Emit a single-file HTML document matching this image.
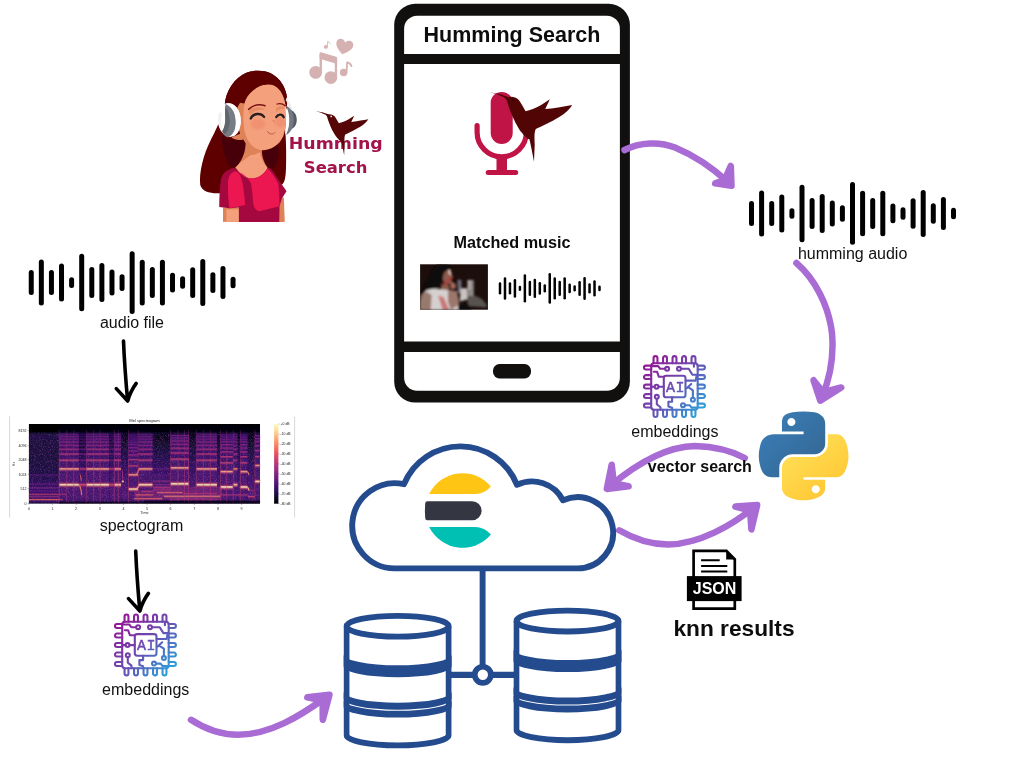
<!DOCTYPE html>
<html lang="en">
<head>
<meta charset="utf-8">
<title>Humming Search</title>
<style>
html,body{margin:0;padding:0;background:#fff;}
body{width:1024px;height:768px;overflow:hidden;}
svg{display:block;will-change:transform;}
text{font-family:"Liberation Sans",sans-serif;}
.lbl{font-size:16px;fill:#111;}
.b{font-weight:bold;}
</style>
</head>
<body>
<svg width="1024" height="768" viewBox="0 0 1024 768">
<!-- defs -->
<defs>
<filter id="blur8" x="-30%" y="-30%" width="160%" height="160%"><feGaussianBlur stdDeviation="8"/></filter>
</defs>
<!-- spectro -->
<g id="spectro">
<path d="M9.6 416.3 V517.8 M294.6 416.3 V517.8" stroke="#c9c9c9" stroke-width="0.7" fill="none"/><path d="M28.9 503.6 v1.3" stroke="#333" stroke-width="0.35"/><path d="M52.5 503.6 v1.3" stroke="#333" stroke-width="0.35"/><path d="M76.1 503.6 v1.3" stroke="#333" stroke-width="0.35"/><path d="M99.8 503.6 v1.3" stroke="#333" stroke-width="0.35"/><path d="M123.4 503.6 v1.3" stroke="#333" stroke-width="0.35"/><path d="M147.0 503.6 v1.3" stroke="#333" stroke-width="0.35"/><path d="M170.6 503.6 v1.3" stroke="#333" stroke-width="0.35"/><path d="M194.2 503.6 v1.3" stroke="#333" stroke-width="0.35"/><path d="M217.9 503.6 v1.3" stroke="#333" stroke-width="0.35"/><path d="M241.5 503.6 v1.3" stroke="#333" stroke-width="0.35"/><path d="M27.6 430.7 h1.3" stroke="#333" stroke-width="0.35"/><path d="M27.6 445.6 h1.3" stroke="#333" stroke-width="0.35"/><path d="M27.6 459.7 h1.3" stroke="#333" stroke-width="0.35"/><path d="M27.6 474.3 h1.3" stroke="#333" stroke-width="0.35"/><path d="M27.6 488.7 h1.3" stroke="#333" stroke-width="0.35"/><path d="M27.6 503.4 h1.3" stroke="#333" stroke-width="0.35"/><path d="M278.4 424.1 h1.2" stroke="#333" stroke-width="0.35"/><path d="M278.4 434.1 h1.2" stroke="#333" stroke-width="0.35"/><path d="M278.4 444.0 h1.2" stroke="#333" stroke-width="0.35"/><path d="M278.4 454.0 h1.2" stroke="#333" stroke-width="0.35"/><path d="M278.4 463.9 h1.2" stroke="#333" stroke-width="0.35"/><path d="M278.4 473.9 h1.2" stroke="#333" stroke-width="0.35"/><path d="M278.4 483.8 h1.2" stroke="#333" stroke-width="0.35"/><path d="M278.4 493.8 h1.2" stroke="#333" stroke-width="0.35"/><path d="M278.4 503.7 h1.2" stroke="#333" stroke-width="0.35"/>
<g transform="translate(24,420) scale(0.1171875)">
<defs><linearGradient id="sgA" gradientUnits="userSpaceOnUse" x1="0" y1="35" x2="0" y2="712"><stop offset="0.000" stop-color="#000004"/><stop offset="0.096" stop-color="#060413"/><stop offset="0.170" stop-color="#300f5f"/><stop offset="0.391" stop-color="#431173"/><stop offset="0.613" stop-color="#501478"/><stop offset="0.835" stop-color="#58177b"/><stop offset="0.953" stop-color="#4b1376"/><stop offset="1.000" stop-color="#240e4e"/></linearGradient><linearGradient id="sgG" gradientUnits="userSpaceOnUse" x1="0" y1="35" x2="0" y2="712"><stop offset="0.000" stop-color="#000004"/><stop offset="0.170" stop-color="#04030e"/><stop offset="0.332" stop-color="#150e37"/><stop offset="0.539" stop-color="#330f65"/><stop offset="0.775" stop-color="#501478"/><stop offset="0.894" stop-color="#641a80"/><stop offset="0.968" stop-color="#431173"/><stop offset="1.000" stop-color="#150e37"/></linearGradient><linearGradient id="sgQ" gradientUnits="userSpaceOnUse" x1="0" y1="35" x2="0" y2="712"><stop offset="0.000" stop-color="#000004"/><stop offset="0.103" stop-color="#000004"/><stop offset="0.126" stop-color="#150e37"/><stop offset="0.391" stop-color="#130d32"/><stop offset="0.613" stop-color="#190e3d"/><stop offset="0.716" stop-color="#280e54"/><stop offset="0.835" stop-color="#3b0f70"/><stop offset="0.968" stop-color="#431173"/><stop offset="1.000" stop-color="#1d0e42"/></linearGradient><filter id="spb" x="0" y="0" width="100%" height="100%"><feGaussianBlur stdDeviation="2.6"/></filter><filter id="spn" x="0" y="0" width="100%" height="100%"><feTurbulence type="fractalNoise" baseFrequency="0.11 0.14" numOctaves="2" seed="7" result="n"/><feColorMatrix in="n" type="matrix" values="0 0 0 0 0.03  0 0 0 0 0.01  0 0 0 0 0.1  2.0 0 0 0 -0.62"/></filter><filter id="spn2" x="0" y="0" width="100%" height="100%"><feTurbulence type="fractalNoise" baseFrequency="0.13 0.1" numOctaves="2" seed="23" result="n"/><feColorMatrix in="n" type="matrix" values="0 0 0 0 0.62  0 0 0 0 0.2  0 0 0 0 0.6  0 2.4 0 0 -1.2"/></filter><clipPath id="spc"><rect x="42" y="35" width="1972" height="677"/></clipPath></defs>
<rect x="42" y="35" width="1972" height="677" fill="#000004"/>
<g clip-path="url(#spc)"><g filter="url(#spb)"><rect x="42" y="35" width="256" height="677" fill="url(#sgQ)"/><rect x="830" y="35" width="60" height="677" fill="url(#sgG)"/><rect x="1099" y="35" width="150" height="677" fill="url(#sgG)"/><rect x="1409" y="35" width="60" height="677" fill="url(#sgG)"/><rect x="1649" y="35" width="25" height="677" fill="url(#sgG)"/><rect x="1824" y="35" width="20" height="677" fill="url(#sgG)"/><rect x="1909" y="35" width="60" height="677" fill="url(#sgG)"/><rect x="298" y="35" width="172" height="677" fill="url(#sgA)"/><rect x="470" y="35" width="60" height="677" fill="url(#sgG)"/><rect x="530" y="35" width="200" height="677" fill="url(#sgA)"/><rect x="730" y="35" width="38" height="677" fill="url(#sgG)"/><rect x="768" y="35" width="62" height="677" fill="url(#sgA)"/><rect x="890" y="35" width="85" height="677" fill="url(#sgA)"/><rect x="975" y="35" width="124" height="677" fill="url(#sgA)"/><rect x="1249" y="35" width="160" height="677" fill="url(#sgA)"/><rect x="1469" y="35" width="180" height="677" fill="url(#sgA)"/><rect x="1674" y="35" width="110" height="677" fill="url(#sgA)"/><rect x="1784" y="35" width="40" height="677" fill="url(#sgA)"/><rect x="1844" y="35" width="65" height="677" fill="url(#sgA)"/><rect x="1969" y="35" width="45" height="677" fill="url(#sgA)"/></g>
<rect x="42" y="105" width="1972" height="607" filter="url(#spn)" opacity="0.75"/>
<rect x="42" y="120" width="1972" height="572" filter="url(#spn2)" opacity="0.38"/>
<g filter="url(#spb)"><rect x="1969" y="124.7" width="45" height="19.6" fill="#4a1376" opacity="0.5"/><rect x="1969" y="149.2" width="45" height="19.6" fill="#56167b" opacity="0.5"/><rect x="1969" y="177.4" width="45" height="19.6" fill="#5e187d" opacity="0.5"/><rect x="1969" y="210.8" width="45" height="19.6" fill="#6c1d80" opacity="0.5"/><rect x="1969" y="251.7" width="45" height="19.6" fill="#7a2281" opacity="0.5"/><rect x="1969" y="304.4" width="45" height="19.6" fill="#842681" opacity="0.5"/><rect x="1969" y="373.1" width="45" height="30.8" fill="#ba3877" opacity="0.5"/><rect x="1969" y="505.4" width="45" height="39.2" fill="#d6456b" opacity="0.5"/><rect x="1844" y="119.4" width="65" height="19.6" fill="#340f66" opacity="0.5"/><rect x="1844" y="136.8" width="65" height="19.6" fill="#3b0f70" opacity="0.5"/><rect x="1844" y="156.1" width="65" height="19.6" fill="#451274" opacity="0.5"/><rect x="1844" y="177.7" width="65" height="19.6" fill="#4c1477" opacity="0.5"/><rect x="1844" y="202.2" width="65" height="19.6" fill="#59177c" opacity="0.5"/><rect x="1844" y="230.4" width="65" height="19.6" fill="#60197f" opacity="0.5"/><rect x="1844" y="263.8" width="65" height="19.6" fill="#6f1e80" opacity="0.5"/><rect x="1844" y="304.7" width="65" height="19.6" fill="#7d2481" opacity="0.5"/><rect x="1844" y="357.4" width="65" height="19.6" fill="#872781" opacity="0.5"/><rect x="1844" y="426.1" width="65" height="30.8" fill="#be3a75" opacity="0.5"/><rect x="1844" y="552.4" width="65" height="39.2" fill="#dc4869" opacity="0.5"/><rect x="1784" y="113.5" width="40" height="19.6" fill="#360f68" opacity="0.5"/><rect x="1784" y="132.8" width="40" height="19.6" fill="#3f1071" opacity="0.5"/><rect x="1784" y="154.4" width="40" height="19.6" fill="#461274" opacity="0.5"/><rect x="1784" y="178.9" width="40" height="19.6" fill="#511579" opacity="0.5"/><rect x="1784" y="207.1" width="40" height="19.6" fill="#58177b" opacity="0.5"/><rect x="1784" y="240.5" width="40" height="19.6" fill="#661b80" opacity="0.5"/><rect x="1784" y="281.4" width="40" height="19.6" fill="#732080" opacity="0.5"/><rect x="1784" y="334.1" width="40" height="19.6" fill="#7c2381" opacity="0.5"/><rect x="1784" y="402.8" width="40" height="30.8" fill="#b0347a" opacity="0.5"/><rect x="1784" y="533.4" width="40" height="39.2" fill="#cb4070" opacity="0.5"/><rect x="1674" y="119.4" width="110" height="19.6" fill="#360f68" opacity="0.5"/><rect x="1674" y="136.8" width="110" height="19.6" fill="#3d1071" opacity="0.5"/><rect x="1674" y="156.1" width="110" height="19.6" fill="#471275" opacity="0.5"/><rect x="1674" y="177.7" width="110" height="19.6" fill="#4f1478" opacity="0.5"/><rect x="1674" y="202.2" width="110" height="19.6" fill="#5b187d" opacity="0.5"/><rect x="1674" y="230.4" width="110" height="19.6" fill="#631a80" opacity="0.5"/><rect x="1674" y="263.8" width="110" height="19.6" fill="#721f80" opacity="0.5"/><rect x="1674" y="304.7" width="110" height="19.6" fill="#812581" opacity="0.5"/><rect x="1674" y="357.4" width="110" height="19.6" fill="#8b2981" opacity="0.5"/><rect x="1674" y="426.1" width="110" height="30.8" fill="#c33c73" opacity="0.5"/><rect x="1674" y="552.4" width="110" height="39.2" fill="#e04c67" opacity="0.5"/><rect x="1469" y="113.5" width="180" height="19.6" fill="#3d1071" opacity="0.5"/><rect x="1469" y="132.8" width="180" height="19.6" fill="#471275" opacity="0.5"/><rect x="1469" y="154.4" width="180" height="19.6" fill="#4f1478" opacity="0.5"/><rect x="1469" y="178.9" width="180" height="19.6" fill="#5b187d" opacity="0.5"/><rect x="1469" y="207.1" width="180" height="19.6" fill="#631a80" opacity="0.5"/><rect x="1469" y="240.5" width="180" height="19.6" fill="#721f80" opacity="0.5"/><rect x="1469" y="281.4" width="180" height="19.6" fill="#812581" opacity="0.5"/><rect x="1469" y="334.1" width="180" height="19.6" fill="#8b2981" opacity="0.5"/><rect x="1469" y="402.8" width="180" height="30.8" fill="#c33c73" opacity="0.5"/><rect x="1469" y="533.4" width="180" height="39.2" fill="#e04c67" opacity="0.5"/><rect x="1249" y="123.8" width="160" height="19.6" fill="#471275" opacity="0.5"/><rect x="1249" y="145.4" width="160" height="19.6" fill="#4f1478" opacity="0.5"/><rect x="1249" y="169.9" width="160" height="19.6" fill="#5b187d" opacity="0.5"/><rect x="1249" y="198.1" width="160" height="19.6" fill="#631a80" opacity="0.5"/><rect x="1249" y="231.5" width="160" height="19.6" fill="#721f80" opacity="0.5"/><rect x="1249" y="272.4" width="160" height="19.6" fill="#812581" opacity="0.5"/><rect x="1249" y="325.1" width="160" height="19.6" fill="#8b2981" opacity="0.5"/><rect x="1249" y="393.8" width="160" height="30.8" fill="#c33c73" opacity="0.5"/><rect x="1249" y="525.4" width="160" height="39.2" fill="#e04c67" opacity="0.5"/><rect x="975" y="113.5" width="124" height="19.6" fill="#3b0f70" opacity="0.5"/><rect x="975" y="132.8" width="124" height="19.6" fill="#451274" opacity="0.5"/><rect x="975" y="154.4" width="124" height="19.6" fill="#4c1477" opacity="0.5"/><rect x="975" y="178.9" width="124" height="19.6" fill="#59177c" opacity="0.5"/><rect x="975" y="207.1" width="124" height="19.6" fill="#60197f" opacity="0.5"/><rect x="975" y="240.5" width="124" height="19.6" fill="#6f1e80" opacity="0.5"/><rect x="975" y="281.4" width="124" height="19.6" fill="#7d2481" opacity="0.5"/><rect x="975" y="334.1" width="124" height="19.6" fill="#872781" opacity="0.5"/><rect x="975" y="402.8" width="124" height="30.8" fill="#be3a75" opacity="0.5"/><rect x="975" y="533.4" width="124" height="39.2" fill="#dc4869" opacity="0.5"/><rect x="890" y="114.0" width="85" height="19.6" fill="#260e50" opacity="0.5"/><rect x="890" y="128.7" width="85" height="19.6" fill="#2d0f5a" opacity="0.5"/><rect x="890" y="144.6" width="85" height="19.6" fill="#310f61" opacity="0.5"/><rect x="890" y="162.1" width="85" height="19.6" fill="#380f6b" opacity="0.5"/><rect x="890" y="181.4" width="85" height="19.6" fill="#411172" opacity="0.5"/><rect x="890" y="202.9" width="85" height="19.6" fill="#481275" opacity="0.5"/><rect x="890" y="227.4" width="85" height="19.6" fill="#54167a" opacity="0.5"/><rect x="890" y="255.7" width="85" height="19.6" fill="#5b187c" opacity="0.5"/><rect x="890" y="289.1" width="85" height="19.6" fill="#691c80" opacity="0.5"/><rect x="890" y="329.9" width="85" height="19.6" fill="#772180" opacity="0.5"/><rect x="890" y="382.7" width="85" height="19.6" fill="#802581" opacity="0.5"/><rect x="890" y="452.6" width="85" height="30.8" fill="#b53679" opacity="0.5"/><rect x="890" y="570.4" width="85" height="39.2" fill="#d1436e" opacity="0.5"/><rect x="768" y="113.5" width="62" height="19.6" fill="#390f6d" opacity="0.5"/><rect x="768" y="132.8" width="62" height="19.6" fill="#431173" opacity="0.5"/><rect x="768" y="154.4" width="62" height="19.6" fill="#4a1376" opacity="0.5"/><rect x="768" y="178.9" width="62" height="19.6" fill="#56167b" opacity="0.5"/><rect x="768" y="207.1" width="62" height="19.6" fill="#5e187d" opacity="0.5"/><rect x="768" y="240.5" width="62" height="19.6" fill="#6c1d80" opacity="0.5"/><rect x="768" y="281.4" width="62" height="19.6" fill="#7a2281" opacity="0.5"/><rect x="768" y="334.1" width="62" height="19.6" fill="#842681" opacity="0.5"/><rect x="768" y="402.8" width="62" height="30.8" fill="#ba3877" opacity="0.5"/><rect x="768" y="533.4" width="62" height="39.2" fill="#d6456b" opacity="0.5"/><rect x="730" y="113.5" width="38" height="19.6" fill="#1f0e46" opacity="0.5"/><rect x="730" y="132.8" width="38" height="19.6" fill="#250e4f" opacity="0.5"/><rect x="730" y="154.4" width="38" height="19.6" fill="#290f56" opacity="0.5"/><rect x="730" y="178.9" width="38" height="19.6" fill="#310f61" opacity="0.5"/><rect x="730" y="207.1" width="38" height="19.6" fill="#350f67" opacity="0.5"/><rect x="730" y="240.5" width="38" height="19.6" fill="#3e1071" opacity="0.5"/><rect x="730" y="281.4" width="38" height="19.6" fill="#481275" opacity="0.5"/><rect x="730" y="334.1" width="38" height="19.6" fill="#4e1477" opacity="0.5"/><rect x="730" y="402.8" width="38" height="30.8" fill="#701f80" opacity="0.5"/><rect x="730" y="533.4" width="38" height="39.2" fill="#832681" opacity="0.5"/><rect x="530" y="113.5" width="200" height="19.6" fill="#3d1071" opacity="0.5"/><rect x="530" y="132.8" width="200" height="19.6" fill="#471275" opacity="0.5"/><rect x="530" y="154.4" width="200" height="19.6" fill="#4f1478" opacity="0.5"/><rect x="530" y="178.9" width="200" height="19.6" fill="#5b187d" opacity="0.5"/><rect x="530" y="207.1" width="200" height="19.6" fill="#631a80" opacity="0.5"/><rect x="530" y="240.5" width="200" height="19.6" fill="#721f80" opacity="0.5"/><rect x="530" y="281.4" width="200" height="19.6" fill="#812581" opacity="0.5"/><rect x="530" y="334.1" width="200" height="19.6" fill="#8b2981" opacity="0.5"/><rect x="530" y="402.8" width="200" height="30.8" fill="#c33c73" opacity="0.5"/><rect x="530" y="533.4" width="200" height="39.2" fill="#e04c67" opacity="0.5"/><rect x="470" y="113.5" width="60" height="19.6" fill="#1f0e46" opacity="0.5"/><rect x="470" y="132.8" width="60" height="19.6" fill="#250e4f" opacity="0.5"/><rect x="470" y="154.4" width="60" height="19.6" fill="#290f56" opacity="0.5"/><rect x="470" y="178.9" width="60" height="19.6" fill="#310f61" opacity="0.5"/><rect x="470" y="207.1" width="60" height="19.6" fill="#350f67" opacity="0.5"/><rect x="470" y="240.5" width="60" height="19.6" fill="#3e1071" opacity="0.5"/><rect x="470" y="281.4" width="60" height="19.6" fill="#481275" opacity="0.5"/><rect x="470" y="334.1" width="60" height="19.6" fill="#4e1477" opacity="0.5"/><rect x="470" y="402.8" width="60" height="30.8" fill="#701f80" opacity="0.5"/><rect x="470" y="533.4" width="60" height="39.2" fill="#832681" opacity="0.5"/><rect x="298" y="113.5" width="172" height="19.6" fill="#3d1071" opacity="0.5"/><rect x="298" y="132.8" width="172" height="19.6" fill="#471275" opacity="0.5"/><rect x="298" y="154.4" width="172" height="19.6" fill="#4f1478" opacity="0.5"/><rect x="298" y="178.9" width="172" height="19.6" fill="#5b187d" opacity="0.5"/><rect x="298" y="207.1" width="172" height="19.6" fill="#631a80" opacity="0.5"/><rect x="298" y="240.5" width="172" height="19.6" fill="#721f80" opacity="0.5"/><rect x="298" y="281.4" width="172" height="19.6" fill="#812581" opacity="0.5"/><rect x="298" y="334.1" width="172" height="19.6" fill="#8b2981" opacity="0.5"/><rect x="298" y="402.8" width="172" height="30.8" fill="#c33c73" opacity="0.5"/><rect x="298" y="533.4" width="172" height="39.2" fill="#e04c67" opacity="0.5"/><rect x="301" y="546.0" width="166" height="14" fill="#fcf5b7"/><rect x="301" y="412.7" width="166" height="11" fill="#febe85"/><rect x="301" y="340.4" width="166" height="7" fill="#e85863"/><rect x="301" y="287.7" width="166" height="7" fill="#de4968"/><rect x="301" y="246.8" width="166" height="7" fill="#c63e72"/><rect x="301" y="213.4" width="166" height="7" fill="#ae337b"/><rect x="301" y="185.2" width="166" height="7" fill="#a1307d"/><rect x="301" y="160.7" width="166" height="7" fill="#8c2981"/><rect x="301" y="139.1" width="166" height="7" fill="#802481"/><rect x="301" y="119.8" width="166" height="7" fill="#701f80"/><rect x="473" y="546.0" width="54" height="14" fill="#e04c67"/><rect x="473" y="412.7" width="54" height="11" fill="#c33c73"/><rect x="473" y="340.4" width="54" height="7" fill="#8b2981"/><rect x="473" y="287.7" width="54" height="7" fill="#812581"/><rect x="473" y="246.8" width="54" height="7" fill="#721f80"/><rect x="473" y="213.4" width="54" height="7" fill="#631a80"/><rect x="473" y="185.2" width="54" height="7" fill="#5b187d"/><rect x="473" y="160.7" width="54" height="7" fill="#4f1478"/><rect x="473" y="139.1" width="54" height="7" fill="#471275"/><rect x="473" y="119.8" width="54" height="7" fill="#3d1071"/><rect x="533" y="546.0" width="194" height="14" fill="#fcf5b7"/><rect x="533" y="412.7" width="194" height="11" fill="#febe85"/><rect x="533" y="340.4" width="194" height="7" fill="#e85863"/><rect x="533" y="287.7" width="194" height="7" fill="#de4968"/><rect x="533" y="246.8" width="194" height="7" fill="#c63e72"/><rect x="533" y="213.4" width="194" height="7" fill="#ae337b"/><rect x="533" y="185.2" width="194" height="7" fill="#a1307d"/><rect x="533" y="160.7" width="194" height="7" fill="#8c2981"/><rect x="533" y="139.1" width="194" height="7" fill="#802481"/><rect x="533" y="119.8" width="194" height="7" fill="#701f80"/><rect x="733" y="546.0" width="32" height="14" fill="#e04c67"/><rect x="733" y="412.7" width="32" height="11" fill="#c33c73"/><rect x="733" y="340.4" width="32" height="7" fill="#8b2981"/><rect x="733" y="287.7" width="32" height="7" fill="#812581"/><rect x="733" y="246.8" width="32" height="7" fill="#721f80"/><rect x="733" y="213.4" width="32" height="7" fill="#631a80"/><rect x="733" y="185.2" width="32" height="7" fill="#5b187d"/><rect x="733" y="160.7" width="32" height="7" fill="#4f1478"/><rect x="733" y="139.1" width="32" height="7" fill="#471275"/><rect x="733" y="119.8" width="32" height="7" fill="#3d1071"/><rect x="771" y="546.0" width="56" height="14" fill="#fde2a4"/><rect x="771" y="412.7" width="56" height="11" fill="#feaa76"/><rect x="771" y="340.4" width="56" height="7" fill="#e14d67"/><rect x="771" y="287.7" width="56" height="7" fill="#d3446d"/><rect x="771" y="246.8" width="56" height="7" fill="#bc3976"/><rect x="771" y="213.4" width="56" height="7" fill="#a5317c"/><rect x="771" y="185.2" width="56" height="7" fill="#982d7f"/><rect x="771" y="160.7" width="56" height="7" fill="#852681"/><rect x="771" y="139.1" width="56" height="7" fill="#792281"/><rect x="771" y="119.8" width="56" height="7" fill="#6a1c80"/><rect x="893" y="583.0" width="79" height="14" fill="#fed99b"/><rect x="893" y="462.5" width="79" height="11" fill="#fea06e"/><rect x="893" y="389.0" width="79" height="7" fill="#dd4869"/><rect x="893" y="336.2" width="79" height="7" fill="#ce416f"/><rect x="893" y="295.4" width="79" height="7" fill="#b73778"/><rect x="893" y="262.0" width="79" height="7" fill="#a02f7d"/><rect x="893" y="233.7" width="79" height="7" fill="#942c7f"/><rect x="893" y="209.2" width="79" height="7" fill="#812581"/><rect x="893" y="187.7" width="79" height="7" fill="#762180"/><rect x="893" y="168.4" width="79" height="7" fill="#671b80"/><rect x="893" y="150.9" width="79" height="7" fill="#5c187d"/><rect x="893" y="135.0" width="79" height="7" fill="#54167a"/><rect x="893" y="120.3" width="79" height="7" fill="#491375"/><rect x="978" y="546.0" width="118" height="14" fill="#fdebad"/><rect x="978" y="412.7" width="118" height="11" fill="#feb47d"/><rect x="978" y="340.4" width="118" height="7" fill="#e45365"/><rect x="978" y="287.7" width="118" height="7" fill="#d9466a"/><rect x="978" y="246.8" width="118" height="7" fill="#c13b74"/><rect x="978" y="213.4" width="118" height="7" fill="#a9327b"/><rect x="978" y="185.2" width="118" height="7" fill="#9d2e7e"/><rect x="978" y="160.7" width="118" height="7" fill="#882881"/><rect x="978" y="139.1" width="118" height="7" fill="#7d2381"/><rect x="978" y="119.8" width="118" height="7" fill="#6d1d80"/><rect x="1252" y="538.0" width="154" height="14" fill="#fcf5b7"/><rect x="1252" y="403.7" width="154" height="11" fill="#febe85"/><rect x="1252" y="331.4" width="154" height="7" fill="#e85863"/><rect x="1252" y="278.7" width="154" height="7" fill="#de4968"/><rect x="1252" y="237.8" width="154" height="7" fill="#c63e72"/><rect x="1252" y="204.4" width="154" height="7" fill="#ae337b"/><rect x="1252" y="176.2" width="154" height="7" fill="#a1307d"/><rect x="1252" y="151.7" width="154" height="7" fill="#8c2981"/><rect x="1252" y="130.1" width="154" height="7" fill="#802481"/><rect x="1472" y="546.0" width="174" height="14" fill="#fcf5b7"/><rect x="1472" y="412.7" width="174" height="11" fill="#febe85"/><rect x="1472" y="340.4" width="174" height="7" fill="#e85863"/><rect x="1472" y="287.7" width="174" height="7" fill="#de4968"/><rect x="1472" y="246.8" width="174" height="7" fill="#c63e72"/><rect x="1472" y="213.4" width="174" height="7" fill="#ae337b"/><rect x="1472" y="185.2" width="174" height="7" fill="#a1307d"/><rect x="1472" y="160.7" width="174" height="7" fill="#8c2981"/><rect x="1472" y="139.1" width="174" height="7" fill="#802481"/><rect x="1472" y="119.8" width="174" height="7" fill="#701f80"/><rect x="1677" y="565.0" width="104" height="14" fill="#fcf5b7"/><rect x="1677" y="436.0" width="104" height="11" fill="#febe85"/><rect x="1677" y="363.7" width="104" height="7" fill="#e85863"/><rect x="1677" y="311.0" width="104" height="7" fill="#de4968"/><rect x="1677" y="270.1" width="104" height="7" fill="#c63e72"/><rect x="1677" y="236.7" width="104" height="7" fill="#ae337b"/><rect x="1677" y="208.5" width="104" height="7" fill="#a1307d"/><rect x="1677" y="184.0" width="104" height="7" fill="#8c2981"/><rect x="1677" y="162.4" width="104" height="7" fill="#802481"/><rect x="1677" y="143.1" width="104" height="7" fill="#701f80"/><rect x="1677" y="125.7" width="104" height="7" fill="#641a80"/><rect x="1787" y="546.0" width="34" height="14" fill="#fecf92"/><rect x="1787" y="412.7" width="34" height="11" fill="#fd976a"/><rect x="1787" y="340.4" width="34" height="7" fill="#d7466b"/><rect x="1787" y="287.7" width="34" height="7" fill="#c83f71"/><rect x="1787" y="246.8" width="34" height="7" fill="#b2357a"/><rect x="1787" y="213.4" width="34" height="7" fill="#9b2e7e"/><rect x="1787" y="185.2" width="34" height="7" fill="#902a80"/><rect x="1787" y="160.7" width="34" height="7" fill="#7e2481"/><rect x="1787" y="139.1" width="34" height="7" fill="#732080"/><rect x="1787" y="119.8" width="34" height="7" fill="#641a80"/><rect x="1847" y="565.0" width="59" height="14" fill="#fdebad"/><rect x="1847" y="436.0" width="59" height="11" fill="#feb47d"/><rect x="1847" y="363.7" width="59" height="7" fill="#e45365"/><rect x="1847" y="311.0" width="59" height="7" fill="#d9466a"/><rect x="1847" y="270.1" width="59" height="7" fill="#c13b74"/><rect x="1847" y="236.7" width="59" height="7" fill="#a9327b"/><rect x="1847" y="208.5" width="59" height="7" fill="#9d2e7e"/><rect x="1847" y="184.0" width="59" height="7" fill="#882881"/><rect x="1847" y="162.4" width="59" height="7" fill="#7d2381"/><rect x="1847" y="143.1" width="59" height="7" fill="#6d1d80"/><rect x="1847" y="125.7" width="59" height="7" fill="#61197f"/><rect x="1972" y="518.0" width="39" height="14" fill="#fde2a4"/><rect x="1972" y="383.0" width="39" height="11" fill="#feaa76"/><rect x="1972" y="310.7" width="39" height="7" fill="#e14d67"/><rect x="1972" y="258.0" width="39" height="7" fill="#d3446d"/><rect x="1972" y="217.1" width="39" height="7" fill="#bc3976"/><rect x="1972" y="183.7" width="39" height="7" fill="#a5317c"/><rect x="1972" y="155.5" width="39" height="7" fill="#982d7f"/><rect x="1972" y="131.0" width="39" height="7" fill="#852681"/><rect x="42" y="630.5" width="256" height="9" fill="#ca4070"/><rect x="42" y="652.0" width="256" height="8" fill="#a1307d"/><rect x="42" y="675.5" width="256" height="9" fill="#f76f5c"/><rect x="42" y="575.5" width="256" height="9" fill="#7c2381"/><rect x="42" y="543.5" width="256" height="9" fill="#701f80"/><rect x="42" y="466.0" width="256" height="8" fill="#641a80"/><rect x="42" y="604.0" width="256" height="8" fill="#641a80"/><rect x="42" y="146.0" width="256" height="8" fill="#2c0f59"/><rect x="298" y="631.0" width="62" height="8" fill="#b63679"/><rect x="298" y="676.0" width="32" height="8" fill="#ca4070"/><rect x="950" y="635.0" width="149" height="10" fill="#f76f5c"/><rect x="940" y="667.0" width="240" height="10" fill="#f8795f"/><rect x="1000" y="605.5" width="99" height="9" fill="#ca4070"/><rect x="1134" y="615.0" width="220" height="10" fill="#f8795f"/><rect x="1194" y="646.5" width="480" height="11" fill="#fe9f6d"/><rect x="1099" y="570.5" width="150" height="9" fill="#b63679"/><rect x="1099" y="518.5" width="150" height="9" fill="#942c7f"/><rect x="1099" y="593.0" width="150" height="8" fill="#a1307d"/><rect x="1354" y="623.5" width="296" height="9" fill="#b63679"/><rect x="1250" y="671.0" width="410" height="10" fill="#a1307d"/><rect x="1674" y="635.5" width="235" height="9" fill="#b63679"/><rect x="1909" y="650.5" width="60" height="9" fill="#de4968"/><rect x="1909" y="595.5" width="60" height="9" fill="#a1307d"/><rect x="1099" y="549.0" width="150" height="8" fill="#8c2981"/><rect x="1099" y="413.0" width="150" height="8" fill="#701f80"/><rect x="1099" y="466.0" width="150" height="8" fill="#641a80"/><path d="M470 553 Q486 575 492 640" stroke="#fa8764" stroke-width="9" fill="none"/><path d="M480 470 Q486 490 488 520" stroke="#f76f5c" stroke-width="8" fill="none"/><circle cx="843" cy="525" r="9" fill="#fedb9d"/><path d="M838 430 Q842 480 843 520" stroke="#b63679" stroke-width="7" fill="none"/><path d="M1905 572 Q1915 580 1920 600" stroke="#feb981" stroke-width="10" fill="none"/><path d="M1905 440 Q1915 448 1920 470" stroke="#fa8764" stroke-width="9" fill="none"/><path d="M960 590 Q972 585 980 553" stroke="#feb981" stroke-width="10" fill="none"/><path d="M960 463 Q972 455 980 420" stroke="#fa8764" stroke-width="9" fill="none"/><rect x="296" y="85" width="8" height="627" fill="#a1307d" opacity="0.36"/><rect x="296" y="330" width="8" height="382" fill="#e35166" opacity="0.22"/><rect x="361" y="85" width="8" height="627" fill="#a1307d" opacity="0.36"/><rect x="361" y="330" width="8" height="382" fill="#e35166" opacity="0.22"/><rect x="421" y="85" width="8" height="627" fill="#a1307d" opacity="0.36"/><rect x="421" y="330" width="8" height="382" fill="#e35166" opacity="0.22"/><rect x="531" y="85" width="8" height="627" fill="#a1307d" opacity="0.36"/><rect x="531" y="330" width="8" height="382" fill="#e35166" opacity="0.22"/><rect x="591" y="85" width="8" height="627" fill="#a1307d" opacity="0.36"/><rect x="591" y="330" width="8" height="382" fill="#e35166" opacity="0.22"/><rect x="646" y="85" width="8" height="627" fill="#a1307d" opacity="0.36"/><rect x="646" y="330" width="8" height="382" fill="#e35166" opacity="0.22"/><rect x="766" y="85" width="8" height="627" fill="#a1307d" opacity="0.36"/><rect x="766" y="330" width="8" height="382" fill="#e35166" opacity="0.22"/><rect x="801" y="85" width="8" height="627" fill="#a1307d" opacity="0.36"/><rect x="801" y="330" width="8" height="382" fill="#e35166" opacity="0.22"/><rect x="888" y="85" width="8" height="627" fill="#a1307d" opacity="0.36"/><rect x="888" y="330" width="8" height="382" fill="#e35166" opacity="0.22"/><rect x="971" y="85" width="8" height="627" fill="#a1307d" opacity="0.36"/><rect x="971" y="330" width="8" height="382" fill="#e35166" opacity="0.22"/><rect x="1248" y="85" width="8" height="627" fill="#a1307d" opacity="0.36"/><rect x="1248" y="330" width="8" height="382" fill="#e35166" opacity="0.22"/><rect x="1310" y="85" width="8" height="627" fill="#a1307d" opacity="0.36"/><rect x="1310" y="330" width="8" height="382" fill="#e35166" opacity="0.22"/><rect x="1365" y="85" width="8" height="627" fill="#a1307d" opacity="0.36"/><rect x="1365" y="330" width="8" height="382" fill="#e35166" opacity="0.22"/><rect x="1400" y="85" width="8" height="627" fill="#a1307d" opacity="0.36"/><rect x="1400" y="330" width="8" height="382" fill="#e35166" opacity="0.22"/><rect x="1466" y="85" width="8" height="627" fill="#a1307d" opacity="0.36"/><rect x="1466" y="330" width="8" height="382" fill="#e35166" opacity="0.22"/><rect x="1526" y="85" width="8" height="627" fill="#a1307d" opacity="0.36"/><rect x="1526" y="330" width="8" height="382" fill="#e35166" opacity="0.22"/><rect x="1586" y="85" width="8" height="627" fill="#a1307d" opacity="0.36"/><rect x="1586" y="330" width="8" height="382" fill="#e35166" opacity="0.22"/><rect x="1672" y="85" width="8" height="627" fill="#a1307d" opacity="0.36"/><rect x="1672" y="330" width="8" height="382" fill="#e35166" opacity="0.22"/><rect x="1726" y="85" width="8" height="627" fill="#a1307d" opacity="0.36"/><rect x="1726" y="330" width="8" height="382" fill="#e35166" opacity="0.22"/><rect x="1782" y="85" width="8" height="627" fill="#a1307d" opacity="0.36"/><rect x="1782" y="330" width="8" height="382" fill="#e35166" opacity="0.22"/><rect x="1842" y="85" width="8" height="627" fill="#a1307d" opacity="0.36"/><rect x="1842" y="330" width="8" height="382" fill="#e35166" opacity="0.22"/><rect x="1966" y="85" width="8" height="627" fill="#a1307d" opacity="0.36"/><rect x="1966" y="330" width="8" height="382" fill="#e35166" opacity="0.22"/><rect x="1100" y="570" width="590" height="115" fill="#b63679" opacity="0.28"/><rect x="940" y="600" width="170" height="85" fill="#b63679" opacity="0.25"/><rect x="1024" y="688" width="990" height="24" fill="#05030f" opacity="0.75"/><rect x="298" y="696" width="726" height="16" fill="#05030f" opacity="0.6"/></g></g>
</g>
<defs><linearGradient id="cbg" x1="0" y1="1" x2="0" y2="0"><stop offset="0" stop-color="#000004"/><stop offset="0.1" stop-color="#150e37"/><stop offset="0.2" stop-color="#3b0f70"/><stop offset="0.3" stop-color="#641a80"/><stop offset="0.4" stop-color="#8c2981"/><stop offset="0.5" stop-color="#b63679"/><stop offset="0.6" stop-color="#de4968"/><stop offset="0.7" stop-color="#f76f5c"/><stop offset="0.8" stop-color="#fe9f6d"/><stop offset="0.9" stop-color="#fed395"/><stop offset="1.0" stop-color="#fcfdbf"/></linearGradient></defs><rect x="274.1" y="424.1" width="4.3" height="79.6" fill="url(#cbg)"/>
<g font-size="3.6" fill="#222" text-anchor="middle"><text x="28.9" y="509.6">0</text><text x="52.5" y="509.6">1</text><text x="76.1" y="509.6">2</text><text x="99.8" y="509.6">3</text><text x="123.4" y="509.6">4</text><text x="147.0" y="509.6">5</text><text x="170.6" y="509.6">6</text><text x="194.2" y="509.6">7</text><text x="217.9" y="509.6">8</text><text x="241.5" y="509.6">9</text><text x="144.5" y="513.9">Time</text><text x="144.5" y="421.8" font-size="4.1">Mel spectrogram</text><text x="15.2" y="464" transform="rotate(-90 15.2 464)">Hz</text></g><g font-size="3.6" fill="#222" text-anchor="end"><text x="26.6" y="432.0">8192</text><text x="26.6" y="446.9">4096</text><text x="26.6" y="461.0">2048</text><text x="26.6" y="475.6">1024</text><text x="26.6" y="490.0">512</text><text x="26.6" y="504.7">0</text></g><g font-size="3.4" fill="#222"><text x="280.6" y="425.3">+0 dB</text><text x="280.6" y="435.2">-10 dB</text><text x="280.6" y="445.2">-20 dB</text><text x="280.6" y="455.2">-30 dB</text><text x="280.6" y="465.1">-40 dB</text><text x="280.6" y="475.1">-50 dB</text><text x="280.6" y="485.0">-60 dB</text><text x="280.6" y="494.9">-70 dB</text><text x="280.6" y="504.9">-80 dB</text></g>
</g>
<!-- phone -->
<g id="phone">
<rect x="394.2" y="3.8" width="235.7" height="398.8" rx="21" ry="21" fill="#12100e"/>
<rect x="404.1" y="15.8" width="215.8" height="375" rx="13" ry="13" fill="#fff"/>
<rect x="399" y="54" width="226" height="10" fill="#12100e"/>
<rect x="399" y="341.5" width="226" height="10.5" fill="#12100e"/>
<rect x="493" y="364" width="38" height="14.5" rx="6.5" ry="6.5" fill="#12100e"/>
<text x="512" y="42" text-anchor="middle" class="b" font-size="21.5" fill="#0d0d0d">Humming Search</text>
<text x="512" y="247.8" text-anchor="middle" class="b" font-size="16.2" fill="#0d0d0d">Matched music</text>
</g>
<!-- mic -->
<g id="mic">
<rect x="490.7" y="91.9" width="22" height="52" rx="11" ry="11" fill="#c01346"/>
<path d="M477.1 125.6 V132.2 A24.6 24.6 0 0 0 526.3 132.2 V125.6" fill="none" stroke="#c01346" stroke-width="5.2" stroke-linecap="round"/>
<rect x="496.5" y="155" width="10.5" height="16.5" fill="#c01346"/>
<rect x="485.7" y="169.9" width="32.5" height="5" rx="2.5" fill="#c01346"/>
<use href="#bird" fill="#520505" transform="translate(464,80) scale(0.13541)"/>
<circle cx="513" cy="99.9" r="0.9" fill="#1a0303"/>
</g>
<!-- photo -->
<g id="photo">
<defs>
<clipPath id="phc"><rect x="420.1" y="264.3" width="67.8" height="45.4"/></clipPath>
<filter id="phb" x="-10%" y="-10%" width="120%" height="120%"><feGaussianBlur stdDeviation="11"/></filter>
</defs>
<rect x="420.1" y="264.3" width="67.8" height="45.4" fill="#1b0e0b"/>
<g clip-path="url(#phc)">
<g transform="translate(416,260) scale(0.07422)" filter="url(#phb)">
<path fill="#0b0707" d="M290 55 L430 65 L490 125 L450 150 L390 185 L350 270 L310 370 L200 410 L60 470 L140 300 L215 150 Z"/>
<path fill="#8d5b4d" d="M395 150 L455 130 L485 190 L500 240 L470 262 L482 300 L430 335 L378 322 L360 250 L372 190 Z"/>
<path fill="#e9cdc6" d="M432 135 L460 132 L478 195 L448 200 Z"/>
<path fill="#b32f2f" d="M430 250 L495 232 L490 262 L440 275 Z"/>
<path fill="#b23a3a" d="M370 280 L440 290 L430 340 L375 335 Z" opacity="0.8"/>
<path fill="#8a5a48" d="M350 320 L450 345 L450 420 L330 400 Z"/>
<path fill="#a86a5c" d="M465 280 L540 330 L525 395 L465 385 Z"/>
<path fill="#d6d0d0" d="M150 400 L250 385 L400 400 L520 420 L570 520 L570 675 L55 675 L55 560 L100 450 Z"/>
<path fill="#8c6b5c" d="M55 470 L150 430 L210 470 L200 675 L55 675 Z" opacity="0.85"/>
<path fill="#c55a5a" d="M300 480 L370 500 L450 675 L360 675 Z" opacity="0.75"/>
<path fill="#9d776b" d="M430 400 L555 420 L580 600 L470 675 L430 560 Z"/>
<path fill="#6b6b7a" d="M558 265 L612 265 L612 445 L562 445 Z"/>
<path fill="#8d8787" d="M695 268 L778 268 L780 500 L697 500 Z"/>
<path fill="#bdb6b4" d="M695 270 L735 270 L735 400 L695 400 Z" opacity="0.8"/>
<path fill="#c9c2c0" d="M600 380 L690 380 L700 530 L590 560 Z"/>
<path fill="#59534f" d="M690 480 L820 490 L890 530 L950 600 L950 640 L700 620 Z"/>
<path fill="#100a09" d="M570 600 L700 590 L760 675 L570 675 Z"/>
</g>
</g>
</g>
<!-- waves -->
<g id="waves" fill="#000">
<rect x="28.75" y="270.10" width="5.00" height="25.00" rx="2.50"/>
<rect x="38.84" y="259.60" width="5.00" height="46.00" rx="2.50"/>
<rect x="48.93" y="270.10" width="5.00" height="25.00" rx="2.50"/>
<rect x="59.02" y="263.60" width="5.00" height="38.00" rx="2.50"/>
<rect x="69.11" y="277.30" width="5.00" height="10.60" rx="2.50"/>
<rect x="79.20" y="253.85" width="5.00" height="57.50" rx="2.50"/>
<rect x="89.29" y="267.10" width="5.00" height="31.00" rx="2.50"/>
<rect x="99.38" y="263.10" width="5.00" height="39.00" rx="2.50"/>
<rect x="109.47" y="269.60" width="5.00" height="26.00" rx="2.50"/>
<rect x="119.56" y="274.30" width="5.00" height="16.60" rx="2.50"/>
<rect x="129.65" y="251.23" width="5.00" height="62.75" rx="2.50"/>
<rect x="139.74" y="259.80" width="5.00" height="45.60" rx="2.50"/>
<rect x="149.83" y="267.10" width="5.00" height="31.00" rx="2.50"/>
<rect x="159.92" y="259.80" width="5.00" height="45.60" rx="2.50"/>
<rect x="170.01" y="272.73" width="5.00" height="19.75" rx="2.50"/>
<rect x="180.10" y="276.35" width="5.00" height="12.50" rx="2.50"/>
<rect x="190.19" y="267.30" width="5.00" height="30.60" rx="2.50"/>
<rect x="200.28" y="259.10" width="5.00" height="47.00" rx="2.50"/>
<rect x="210.37" y="272.30" width="5.00" height="20.60" rx="2.50"/>
<rect x="220.46" y="266.10" width="5.00" height="33.00" rx="2.50"/>
<rect x="230.55" y="276.85" width="5.00" height="11.50" rx="2.50"/>
<rect x="749.00" y="201.00" width="5.00" height="25.00" rx="2.50"/>
<rect x="759.10" y="190.50" width="5.00" height="46.00" rx="2.50"/>
<rect x="769.20" y="201.00" width="5.00" height="25.00" rx="2.50"/>
<rect x="779.30" y="194.50" width="5.00" height="38.00" rx="2.50"/>
<rect x="789.40" y="208.20" width="5.00" height="10.60" rx="2.50"/>
<rect x="799.50" y="184.75" width="5.00" height="57.50" rx="2.50"/>
<rect x="809.60" y="198.00" width="5.00" height="31.00" rx="2.50"/>
<rect x="819.70" y="194.00" width="5.00" height="39.00" rx="2.50"/>
<rect x="829.80" y="200.50" width="5.00" height="26.00" rx="2.50"/>
<rect x="839.90" y="205.20" width="5.00" height="16.60" rx="2.50"/>
<rect x="850.00" y="182.12" width="5.00" height="62.75" rx="2.50"/>
<rect x="860.10" y="190.70" width="5.00" height="45.60" rx="2.50"/>
<rect x="870.20" y="198.00" width="5.00" height="31.00" rx="2.50"/>
<rect x="880.30" y="190.70" width="5.00" height="45.60" rx="2.50"/>
<rect x="890.40" y="203.62" width="5.00" height="19.75" rx="2.50"/>
<rect x="900.50" y="207.25" width="5.00" height="12.50" rx="2.50"/>
<rect x="910.60" y="198.20" width="5.00" height="30.60" rx="2.50"/>
<rect x="920.70" y="190.00" width="5.00" height="47.00" rx="2.50"/>
<rect x="930.80" y="203.20" width="5.00" height="20.60" rx="2.50"/>
<rect x="940.90" y="197.00" width="5.00" height="33.00" rx="2.50"/>
<rect x="951.00" y="207.75" width="5.00" height="11.50" rx="2.50"/>
<rect x="498.75" y="282.27" width="2.50" height="12.25" rx="1.25"/>
<rect x="503.73" y="277.13" width="2.50" height="22.54" rx="1.25"/>
<rect x="508.70" y="282.27" width="2.50" height="12.25" rx="1.25"/>
<rect x="513.67" y="279.09" width="2.50" height="18.62" rx="1.25"/>
<rect x="518.65" y="285.80" width="2.50" height="5.19" rx="1.25"/>
<rect x="523.62" y="274.31" width="2.50" height="28.18" rx="1.25"/>
<rect x="528.60" y="280.80" width="2.50" height="15.19" rx="1.25"/>
<rect x="533.58" y="278.84" width="2.50" height="19.11" rx="1.25"/>
<rect x="538.55" y="282.03" width="2.50" height="12.74" rx="1.25"/>
<rect x="543.52" y="284.33" width="2.50" height="8.13" rx="1.25"/>
<rect x="548.50" y="273.03" width="2.50" height="30.75" rx="1.25"/>
<rect x="553.48" y="277.23" width="2.50" height="22.34" rx="1.25"/>
<rect x="558.45" y="280.80" width="2.50" height="15.19" rx="1.25"/>
<rect x="563.42" y="277.23" width="2.50" height="22.34" rx="1.25"/>
<rect x="568.40" y="283.56" width="2.50" height="9.68" rx="1.25"/>
<rect x="573.38" y="285.34" width="2.50" height="6.12" rx="1.25"/>
<rect x="578.35" y="280.90" width="2.50" height="14.99" rx="1.25"/>
<rect x="583.33" y="276.88" width="2.50" height="23.03" rx="1.25"/>
<rect x="588.30" y="283.35" width="2.50" height="10.09" rx="1.25"/>
<rect x="593.27" y="280.31" width="2.50" height="16.17" rx="1.25"/>
<rect x="598.25" y="285.58" width="2.50" height="5.63" rx="1.25"/>
</g>
<!-- girl -->
<g id="girl" transform="translate(192,60) scale(0.125)">
<!-- back hair -->
<path fill="#5e0000" d="M262 360 C268 250 340 140 440 100 C480 85 540 80 590 92 C700 120 765 230 762 340 L745 560 C752 620 756 760 752 860 C750 930 745 975 722 995 L230 1065 C150 1070 80 1055 66 1000 C55 900 90 760 150 640 C180 580 205 530 215 500 Z"/>
<!-- dark inner hair -->
<path fill="#470009" d="M240 600 C235 690 260 780 300 850 L360 865 C420 800 450 720 440 660 L400 625 L300 640 Z"/>
<path fill="#470009" d="M540 765 C570 730 640 700 690 680 C700 730 700 800 650 872 L610 860 C580 830 550 800 540 765 Z"/>
<!-- neck -->
<path fill="#de8258" d="M425 600 C440 690 420 790 350 860 L480 900 L605 862 C570 810 555 760 560 700 Z"/>
<path fill="#f4a07c" d="M470 760 C500 760 540 740 545 735 C550 790 575 830 605 865 C585 925 530 957 480 957 C430 957 380 925 345 862 C400 810 440 780 470 760 Z"/>
<!-- arms -->
<path fill="#de8258" d="M248 1180 H380 V1295 H248 Z"/>
<path fill="#f4a07c" d="M275 1195 H380 V1295 H275 Z"/>
<path fill="#de8258" d="M693 1100 H735 L742 1295 H700 Z"/>
<!-- shirt dark -->
<path fill="#a5083f" d="M350 862 C300 870 250 890 232 950 C222 1020 218 1100 218 1175 L300 1185 L375 1180 V1295 H700 V1170 L720 1105 L756 1050 C730 1010 700 970 660 910 C640 880 625 865 605 860 C580 915 530 947 480 947 C430 947 385 915 350 862 Z"/>
<!-- shirt bright : sleeve -->
<path fill="#ec1651" d="M345 890 C310 900 290 930 288 980 C285 1050 290 1120 300 1185 L425 1160 C420 1080 410 1000 395 950 C385 915 370 895 345 890 Z"/>
<!-- bib -->
<path fill="#ec1651" d="M385 905 C420 935 450 947 480 947 C530 945 578 915 603 866 C640 900 670 950 690 990 C698 1050 700 1110 700 1170 L540 1210 C510 1205 495 1180 490 1150 C485 1080 480 1020 470 985 C455 950 420 920 385 900 Z"/>
<!-- face shadow side / ear -->
<path fill="#de8258" d="M370 340 C355 420 360 520 385 590 C360 600 330 610 315 620 C340 640 380 645 410 635 C440 690 490 730 560 720 L430 350 Z"/>
<!-- face -->
<path fill="#f4a07c" d="M420 345 C440 270 520 200 610 192 C690 195 740 270 748 350 C760 440 755 540 730 610 C700 680 630 722 560 722 C480 715 430 640 415 540 C408 470 410 400 420 345 Z"/>
<!-- front hair -->
<path fill="#5e0000" d="M262 362 C268 250 340 140 440 100 C480 85 540 80 590 92 C700 120 765 230 762 340 L748 356 C735 280 700 215 640 198 C560 185 470 215 420 290 C395 325 380 350 365 375 Z"/>
<!-- cheeks -->
<ellipse cx="530" cy="512" rx="60" ry="42" fill="#e9705c" opacity="0.3" filter="url(#blur8)"/>
<ellipse cx="705" cy="500" rx="44" ry="38" fill="#e9705c" opacity="0.3" filter="url(#blur8)"/>
<!-- eyelids -->
<path fill="#e58a62" d="M450 400 C500 370 560 370 590 400 C560 395 500 400 465 440 Z" opacity="0.8"/>
<path fill="#e58a62" d="M670 385 C700 365 730 365 748 385 C730 385 700 390 675 420 Z" opacity="0.8"/>
<!-- brows -->
<path fill="none" stroke="#7a1414" stroke-width="11" stroke-linecap="round" d="M452 395 C490 360 540 350 585 366"/>
<path fill="none" stroke="#7a1414" stroke-width="10" stroke-linecap="round" d="M680 352 C705 344 728 350 745 366"/>
<!-- eyes -->
<path fill="none" stroke="#2a1f20" stroke-width="19" stroke-linecap="round" d="M470 468 C490 425 550 420 577 455"/>
<path fill="none" stroke="#2a1f20" stroke-width="18" stroke-linecap="round" d="M674 456 C692 430 722 432 734 458"/>
<!-- nose, mouth -->
<path fill="#e58a62" d="M640 480 C655 475 668 488 662 505 C655 500 648 492 640 480 Z"/>
<path fill="none" stroke="#c4574c" stroke-width="8" stroke-linecap="round" d="M602 572 C620 598 650 598 664 580"/>
<!-- left headphone -->
<path fill="#ffffff" d="M300 345 C240 340 205 400 205 470 C205 540 240 600 290 615 C330 620 380 590 390 500 C395 420 360 355 300 345 Z"/>
<path fill="#f1f1f3" d="M215 420 C200 470 215 540 250 580 C235 540 230 480 240 420 Z"/>
<path fill="#777d84" d="M268 352 C315 370 348 420 352 490 C352 555 330 600 288 617 C265 612 248 595 242 570 C262 540 268 500 266 460 C264 420 262 385 268 352 Z"/>
<path fill="#5f666d" d="M268 374 C288 402 302 440 302 490 C300 540 286 575 262 592 C252 586 246 577 242 569 C262 540 268 500 266 460 C264 425 263 395 268 374 Z"/>
<path fill="#ffffff" d="M300 345 C345 350 385 400 390 480 C392 550 365 600 325 612 C345 580 352 540 350 490 C347 420 330 375 300 345 Z"/>
<!-- right headphone -->
<path fill="#e9eaec" d="M755 300 C775 330 795 365 805 400 L780 395 C770 365 762 340 750 320 Z"/>
<path fill="#565c63" d="M785 398 C826 412 838 450 838 478 C838 510 826 542 788 556 Z"/>
<path fill="#727980" d="M750 366 C792 378 814 430 814 480 C814 535 792 582 752 600 C770 560 778 520 778 480 C778 440 770 400 750 366 Z"/>
<path fill="#ffffff" d="M745 368 C765 400 775 440 775 480 C775 530 765 570 745 600 C755 540 758 440 745 368 Z"/>
</g>
<!-- notes -->
<g id="notes" transform="translate(296,30) scale(0.09375)" fill="#d6b1b1" stroke="#d6b1b1" stroke-linecap="round" stroke-linejoin="round">
<circle cx="210" cy="452" r="68" stroke="none"/>
<circle cx="372" cy="507" r="68" stroke="none"/>
<path d="M264 452 V262 L426 310 V507" fill="none" stroke-width="25"/>
<path d="M264 250 L426 297 V345 L264 298 Z" stroke-width="25"/>
<circle cx="318" cy="180" r="21" stroke="none"/>
<path d="M334 180 L338 122 Q355 125 362 142" fill="none" stroke-width="9"/>
<circle cx="508" cy="453" r="40" stroke="none"/>
<path d="M539 452 L545 345 Q578 350 592 385" fill="none" stroke-width="19"/>
<path stroke="none" transform="translate(512,186) rotate(14)" d="M0 75 C-20 60 -92 15 -92 -35 C-92 -90 -25 -100 0 -55 C25 -100 92 -90 92 -35 C92 15 20 60 0 75 Z"/>
</g>
<!-- logo -->
<defs>
<path id="bird" d="M185 90 L262 103 L332 127 C350 120 385 128 405 148 C425 175 440 205 455 230 C490 222 525 212 570 185 L634 142 L600 215 C660 208 730 197 799 184 C780 215 745 250 700 275 C650 305 580 340 530 362 C518 385 520 430 522 480 L517 604 L497 500 L484 440 C450 425 420 385 400 350 C370 300 345 240 330 195 L316 150 L300 131 L240 104 Z"/>
</defs>
<g id="logo">
<text x="335.8" y="149.3" text-anchor="middle" font-size="16.6" font-weight="bold" fill="#a31248" style="font-family:'DejaVu Sans','Liberation Sans',sans-serif" textLength="94" lengthAdjust="spacingAndGlyphs">Humming</text>
<text x="335.6" y="173" text-anchor="middle" font-size="16.6" font-weight="bold" fill="#a31248" style="font-family:'DejaVu Sans','Liberation Sans',sans-serif" textLength="63.6" lengthAdjust="spacingAndGlyphs">Search</text>
<use href="#bird" fill="#560606" transform="translate(315.7,111.2) scale(0.0857) translate(-185,-90)"/>
<circle cx="331.2" cy="116.4" r="0.9" fill="#f3dede"/>
</g>
<!-- arrows -->
<g id="arrows" fill="none" stroke-linecap="round" stroke-linejoin="round">
<g stroke="#a96bd4" stroke-width="6.5">
<path d="M191 719.8 C205 729 222 734.8 238 734.8 C270 734.8 300 716 325 698"/>
<path d="M307.3 697.3 L329.5 694.7 L322.8 719.8 L322.6 700.5 Z" fill="#a96bd4" stroke-width="6.5"/>
<path d="M624.5 150 C640 142 660 141.5 675 147.5 C698 157 715 170 729 183"/>
<path d="M730.8 165.9 L731.5 185.8 L715.2 183.4 L724.6 180.0 Z" fill="#a96bd4" stroke-width="6.5"/>
<path d="M796.4 263 C815 279 829 306 832 333.5 C834 356 830 378 822 397"/>
<path d="M813.5 380.2 L820.3 400.7 L841.2 387.5 L823.0 392.1 Z" fill="#a96bd4" stroke-width="6.5"/>
<path d="M744.8 458 C730 450 713 446.5 695 446 C665 446.5 634 466 610 486"/>
<path d="M611.7 464.7 L606.8 488.9 L628.6 486.2 L613.9 483.5 Z" fill="#a96bd4" stroke-width="6.5"/>
<path d="M619.2 530.3 C634 539 650 544.4 668 544.6 C700 544 732 525 754 507.5"/>
<path d="M735.4 506.5 L757.2 505.1 L751.4 529.4 L750.1 510.6 Z" fill="#a96bd4" stroke-width="6.5"/>
</g>
<g stroke="#000" stroke-width="3.6">
<path id="barrow" d="M123.5 341 Q124.5 366 127.6 400.5 M116.3 388.6 L127.7 401 Q130.5 391 136.2 383.4"/>
<use href="#barrow" x="12.2" y="210"/>
</g>
</g>
<!-- chips -->
<defs>
<linearGradient id="chipg" gradientUnits="userSpaceOnUse" x1="4" y1="6" x2="60" y2="58"><stop offset="0" stop-color="#951592"/><stop offset="0.5" stop-color="#6a4db3"/><stop offset="1" stop-color="#24a9de"/></linearGradient>
<g id="chip" fill="none" stroke="url(#chipg)" stroke-width="2.1" stroke-linecap="round" stroke-linejoin="round">
<rect x="8.1" y="8.1" width="46.5" height="46.5" rx="3" ry="3"/>
<rect x="20.7" y="20.5" width="21.7" height="21.6" rx="2.4" ry="2.4"/>
<path d="M10.45 8.1 V2.85 A1.95 1.95 0 0 1 14.35 2.85 V8.1 M10.45 54.6 V59.85 A1.95 1.95 0 0 0 14.35 59.85 V54.6 M8.1 10.45 H2.85 A1.95 1.95 0 0 0 2.85 14.35 H8.1 M54.6 10.45 H59.85 A1.95 1.95 0 0 1 59.85 14.35 H54.6 M19.95 8.1 V2.85 A1.95 1.95 0 0 1 23.85 2.85 V8.1 M19.95 54.6 V59.85 A1.95 1.95 0 0 0 23.85 59.85 V54.6 M8.1 19.95 H2.85 A1.95 1.95 0 0 0 2.85 23.85 H8.1 M54.6 19.95 H59.85 A1.95 1.95 0 0 1 59.85 23.85 H54.6 M29.45 8.1 V2.85 A1.95 1.95 0 0 1 33.35 2.85 V8.1 M29.45 54.6 V59.85 A1.95 1.95 0 0 0 33.35 59.85 V54.6 M8.1 29.45 H2.85 A1.95 1.95 0 0 0 2.85 33.35 H8.1 M54.6 29.45 H59.85 A1.95 1.95 0 0 1 59.85 33.35 H54.6 M38.95 8.1 V2.85 A1.95 1.95 0 0 1 42.85 2.85 V8.1 M38.95 54.6 V59.85 A1.95 1.95 0 0 0 42.85 59.85 V54.6 M8.1 38.95 H2.85 A1.95 1.95 0 0 0 2.85 42.85 H8.1 M54.6 38.95 H59.85 A1.95 1.95 0 0 1 59.85 42.85 H54.6 M48.45 8.1 V2.85 A1.95 1.95 0 0 1 52.35 2.85 V8.1 M48.45 54.6 V59.85 A1.95 1.95 0 0 0 52.35 59.85 V54.6 M8.1 48.45 H2.85 A1.95 1.95 0 0 0 2.85 52.35 H8.1 M54.6 48.45 H59.85 A1.95 1.95 0 0 1 59.85 52.35 H54.6"/>
<path d="M8.1 10.9 H15.1 L17.1 13.6 H22 M10.7 16.6 H14 L15.8 21.6 H20.5 M37.9 13.6 H45.6 L49.3 19.5 H54.6 M53.6 20 L52.6 25.4 H42.6 M50.8 8.1 V11.6 M8.1 31.5 H11.5 M15.4 31.5 H20.7 M13.7 43.6 V49 L17.4 52 V54.6 M29 42.2 V46.5 H25.3 V51.3 L29 52.6 V54.6 M43.6 33 L48.1 28.7 M45.4 32.2 L49.8 35.1 V42.5 M41.9 50 H46.5 L48.5 52.4 H54.6"/>
<circle cx="24" cy="13.6" r="1.95"/><circle cx="35.9" cy="13.6" r="1.95"/><circle cx="13.45" cy="31.5" r="1.95"/><circle cx="13.7" cy="41.6" r="1.95"/><circle cx="49.8" cy="44.5" r="1.95"/><circle cx="39.9" cy="50" r="1.95"/>
<text x="32.4" y="36.7" text-anchor="middle" font-size="15" fill="url(#chipg)" stroke="url(#chipg)" stroke-width="0.5" style="font-family:'Liberation Mono',monospace" letter-spacing="0.6">AI</text>
</g>
</defs>
<use href="#chip" x="114.1" y="613.6"/>
<use href="#chip" x="643.1" y="355.2"/>
<!-- cloud -->
<g id="cloud" fill="none" stroke="#234b8e" stroke-width="5.9">
<path d="M394.6 568.4 A42.6 42.6 0 1 1 404 484.2 A60.9 60.9 0 0 1 517 484.8 A35 35 0 0 1 563 500.3 A35.6 35.6 0 1 1 577 568.4 Z" fill="#fff" stroke-linejoin="round"/>
<path d="M482.6 568.4 V666.5" />
<circle cx="482.8" cy="674.8" r="8.05" stroke-width="5.7"/>
<path d="M451 674.8 H474.8 M490.8 674.8 H514" stroke-width="6.3"/>
<defs><clipPath id="dbc1"><rect x="343.5" y="600" width="108.2" height="160"/></clipPath><clipPath id="dbc2"><rect x="513.4" y="600" width="108.2" height="160"/></clipPath></defs>
<g clip-path="url(#dbc1)">
<ellipse cx="397.6" cy="626.25" rx="51.1" ry="10.4" fill="#fff"/>
<path d="M346.5 626.25 V735.0 A51.1 10.4 0 0 0 448.7 735.0 V626.25"/>
<path d="M343.3 654.20 A54.300000000000004 11.1 0 0 0 451.9 654.20 V666.10 A54.300000000000004 11.1 0 0 1 343.3 666.10 Z" fill="#234b8e" stroke="none"/>
<path d="M343.3 691.60 A54.300000000000004 11.1 0 0 0 451.9 691.60 V698.60 A54.300000000000004 11.1 0 0 1 343.3 698.60 Z" fill="#234b8e" stroke="none"/>
<path d="M343.3 699.70 A54.300000000000004 11.1 0 0 0 451.9 699.70 V706.50 A54.300000000000004 11.1 0 0 1 343.3 706.50 Z" fill="#234b8e" stroke="none"/>
</g>
<g clip-path="url(#dbc2)">
<ellipse cx="567.5" cy="621.05" rx="51.1" ry="10.4" fill="#fff"/>
<path d="M516.4 621.05 V729.8 A51.1 10.4 0 0 0 618.6 729.8 V621.05"/>
<path d="M513.2 649.00 A54.300000000000004 11.1 0 0 0 621.8 649.00 V660.90 A54.300000000000004 11.1 0 0 1 513.2 660.90 Z" fill="#234b8e" stroke="none"/>
<path d="M513.2 686.40 A54.300000000000004 11.1 0 0 0 621.8 686.40 V693.40 A54.300000000000004 11.1 0 0 1 513.2 693.40 Z" fill="#234b8e" stroke="none"/>
<path d="M513.2 694.50 A54.300000000000004 11.1 0 0 0 621.8 694.50 V701.30 A54.300000000000004 11.1 0 0 1 513.2 701.30 Z" fill="#234b8e" stroke="none"/>
</g>
</g>
<g id="eslogo">
<path d="M429.2 494 A37.05 37.05 0 0 1 490.9 486.5 Q484.5 494 475 494 Z" fill="#fec514"/>
<path d="M427.3 501.2 H472.1 A9.55 9.55 0 0 1 472.1 520.3 H427.3 Q425.3 520.3 425.2 518 Q424.6 510.8 425.2 503.5 Q425.3 501.2 427.3 501.2 Z" fill="#343741"/>
<path d="M429.2 526.9 A37.05 37.05 0 0 0 490.9 534.5 Q484.5 526.9 475 526.9 Z" fill="#00bfb3"/>
</g>
<!-- python -->
<g id="python" transform="translate(758.8,411.5) scale(0.807,0.79)">
<defs>
<linearGradient id="pyb" x1="0" y1="0" x2="1" y2="1"><stop offset="0" stop-color="#3a80bb"/><stop offset="1" stop-color="#34648f"/></linearGradient>
<linearGradient id="pyy" x1="0.2" y1="0" x2="0.9" y2="0.9"><stop offset="0" stop-color="#ffe25a"/><stop offset="1" stop-color="#ffc531"/></linearGradient>
</defs>
<path fill="url(#pyb)" d="M54.919 0.001C50.335 0.022 45.958 0.413 42.106 1.095 30.76 3.099 28.7 7.295 28.7 15.032v10.219h26.813v3.406H28.7 18.638c-7.792 0-14.616 4.684-16.75 13.594-2.462 10.213-2.571 16.586 0 27.25 1.906 7.938 6.458 13.594 14.25 13.594h9.219v-12.25c0-8.85 7.657-16.656 16.75-16.656h26.781c7.455 0 13.406-6.138 13.406-13.625V15.032c0-7.266-6.13-12.725-13.406-13.937C64.282 0.328 59.502-0.02 54.919 0.001zm-14.5 8.219c2.77 0 5.031 2.299 5.031 5.125 0 2.816-2.262 5.094-5.031 5.094-2.779 0-5.031-2.277-5.031-5.094 0-2.826 2.252-5.125 5.031-5.125z"/>
<path fill="url(#pyy)" d="M85.638 28.657v11.906c0 9.231-7.826 17-16.75 17H42.106c-7.336 0-13.406 6.278-13.406 13.625v25.531c0 7.266 6.319 11.54 13.406 13.625 8.487 2.496 16.626 2.947 26.781 0 6.75-1.954 13.406-5.888 13.406-13.625V86.501H55.513v-3.406h26.781 13.406c7.792 0 10.696-5.435 13.406-13.594 2.799-8.399 2.68-16.476 0-27.25-1.926-7.757-5.604-13.594-13.406-13.594zM70.575 93.313c2.779 0 5.031 2.277 5.031 5.094 0 2.826-2.252 5.125-5.031 5.125-2.77 0-5.031-2.299-5.031-5.125 0-2.816 2.262-5.094 5.031-5.094z"/>
</g>
<!-- json -->
<g id="json">
<path d="M693.6 550.8 H726.4 L734.8 559.4 V608.7 H693.6 Z" fill="#fff" stroke="#000" stroke-width="2.7" stroke-linejoin="miter"/>
<path d="M726.2 549.6 L736 559.6 H726.2 Z" fill="#000"/>
<path d="M701.1 560.3 H719.7 M701.1 566 H727.3 M701.1 571.6 H727.3" stroke="#000" stroke-width="2" fill="none"/>
<rect x="686.9" y="576.1" width="54.7" height="25" fill="#000"/>
<text x="714.6" y="594" text-anchor="middle" class="b" font-size="16" fill="#fff">JSON</text>
</g>
<!-- labels -->
<g id="labels">
<text x="132" y="328.1" text-anchor="middle" class="lbl">audio file</text>
<text x="141.5" y="530.6" text-anchor="middle" class="lbl">spectogram</text>
<text x="145.7" y="695.3" text-anchor="middle" class="lbl">embeddings</text>
<text x="674.9" y="436.6" text-anchor="middle" class="lbl">embeddings</text>
<text x="852.6" y="258.7" text-anchor="middle" class="lbl">humming audio</text>
<text x="699.8" y="471.6" text-anchor="middle" class="b" font-size="16" fill="#0d0d0d">vector search</text>
<text x="734" y="636" text-anchor="middle" class="b" font-size="22.7" fill="#0d0d0d">knn results</text>
</g>
</svg>
</body>
</html>
